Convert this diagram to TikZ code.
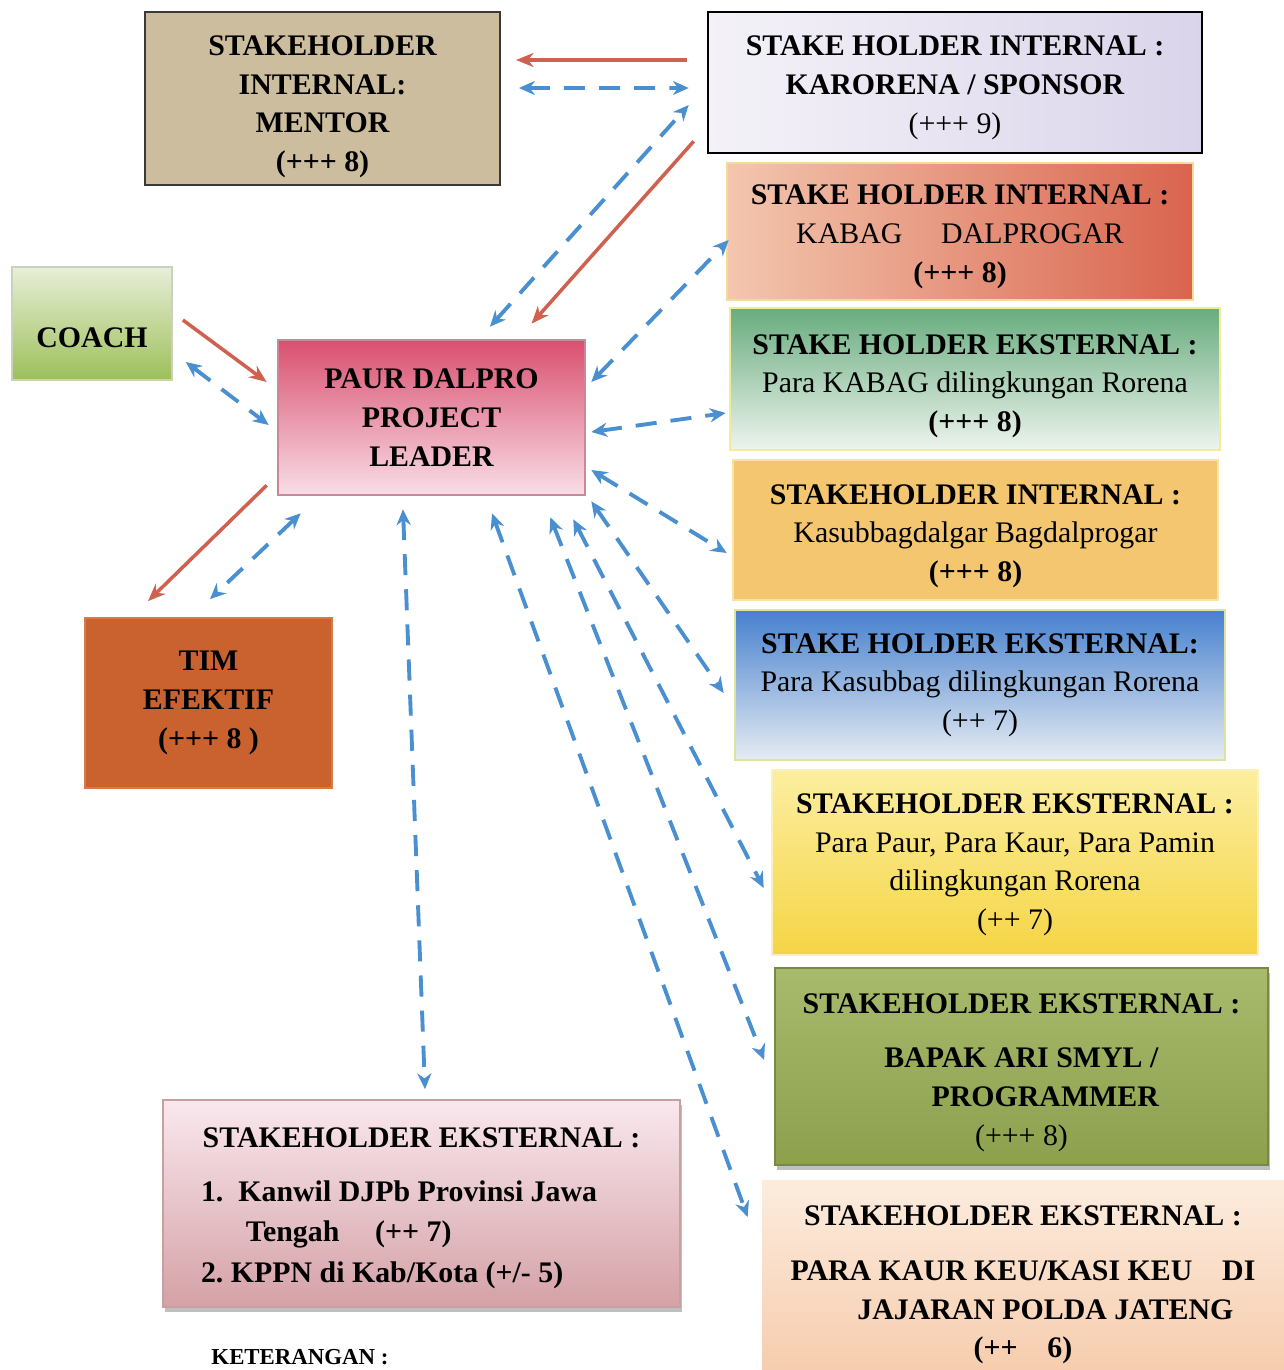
\documentclass[tikz,border=0pt]{standalone}
\usepackage{fontspec}
\setmainfont{Liberation Serif}
\usetikzlibrary{arrows.meta,calc,shadows}
\definecolor{redarr}{HTML}{D0604F}
\definecolor{bluearr}{HTML}{4A8FD0}
\newcommand\tstr[1]{\rule{0pt}{#1}}
\begin{document}
\begin{tikzpicture}[x=0.02cm,y=-0.02cm,
  wh/.style args={#1/#2}{rectangle, minimum width=#1*0.02cm, minimum height=#2*0.02cm,
     inner sep=0pt, align=center, font=\fontsize{17}{22}\selectfont},
  redline/.style={draw=redarr, line width=2pt, -{Stealth[length=10pt,width=8pt]}},
  blueline/.style={draw=bluearr, line width=2.2pt, dash pattern=on 12pt off 8pt,
     {Stealth[length=9pt,width=8pt]}-{Stealth[length=9pt,width=8pt]}},
]
\path[use as bounding box, clip] (0,0) rectangle (1284,1370);
\fill[white] (0,0) rectangle (1284,1370);

% nodes
\node[wh=355/173, fill={rgb,255:red,204;green,189;blue,158}, draw={rgb,255:red,58;green,58;blue,58}, line width=1.2pt, font=\fontsize{17}{22}\selectfont\bfseries]
  (mentor) at (322.5,98.5) {\tstr{20.5pt}STAKEHOLDER\\INTERNAL:\\MENTOR\\(+++ 8)};

\node[wh=494/141, left color={rgb,255:red,244;green,242;blue,248}, right color={rgb,255:red,218;green,212;blue,234}, draw=black, line width=1.5pt]
  (karo) at (955,82.5) {\tstr{17.2pt}\textbf{STAKE HOLDER INTERNAL :}\\\textbf{KARORENA / SPONSOR}\\(+++ 9)};

\node[wh=466/137, left color={rgb,255:red,243;green,198;blue,174}, right color={rgb,255:red,217;green,100;blue,78}, draw={rgb,255:red,242;green,220;blue,152}, line width=1.5pt]
  (kabag) at (960,231.5) {\tstr{17.2pt}\textbf{STAKE HOLDER INTERNAL :}\\KABAG\hspace{1.3em}DALPROGAR\\\textbf{(+++ 8)}};

\node[wh=490/142, top color={rgb,255:red,104;green,172;blue,126}, bottom color={rgb,255:red,238;green,244;blue,238}, draw={rgb,255:red,242;green,236;blue,148}, line width=1.5pt]
  (pkabag) at (975,379) {\tstr{19.4pt}\textbf{STAKE HOLDER EKSTERNAL :}\\Para KABAG dilingkungan Rorena\\\textbf{(+++ 8)}};

\node[wh=485/140, fill={rgb,255:red,243;green,198;blue,111}, draw={rgb,255:red,247;green,228;blue,166}, line width=1.5pt]
  (kasub) at (975.5,530) {\tstr{18.3pt}\textbf{STAKEHOLDER INTERNAL :}\\Kasubbagdalgar Bagdalprogar\\\textbf{(+++ 8)}};

\node[wh=490/150, top color={rgb,255:red,70;green,128;blue,206}, bottom color={rgb,255:red,230;green,236;blue,242}, draw={rgb,255:red,221;green,228;blue,160}, line width=1.5pt]
  (pkasub) at (980,685) {\textbf{STAKE HOLDER EKSTERNAL:}\\Para Kasubbag dilingkungan Rorena\\(++ 7)};

\node[wh=486/185, top color={rgb,255:red,252;green,238;blue,160}, bottom color={rgb,255:red,245;green,213;blue,69}, draw={rgb,255:red,250;green,240;blue,190}, line width=1.5pt]
  (ppaur) at (1015,862.5) {\tstr{13.8pt}\textbf{STAKEHOLDER EKSTERNAL :}\\Para Paur, Para Kaur, Para Pamin\\dilingkungan Rorena\\(++ 7)};

\node[wh=493/197, top color={rgb,255:red,168;green,186;blue,108}, bottom color={rgb,255:red,140;green,160;blue,78}, draw={rgb,255:red,120;green,136;blue,70}, line width=1pt,
  drop shadow={shadow xshift=1pt, shadow yshift=-3pt, opacity=0.5}]
  (ari) at (1021.5,1066.5) {\tstr{18.3pt}\textbf{STAKEHOLDER EKSTERNAL :}\\[9pt]\textbf{BAPAK ARI SMYL /}\\\hspace*{1.6em}\textbf{PROGRAMMER}\\(+++ 8)};

\node[wh=522/190, top color={rgb,255:red,252;green,236;blue,222}, bottom color={rgb,255:red,246;green,205;blue,174}, font=\fontsize{17}{22}\selectfont\bfseries]
  (kaur) at (1023,1275) {\tstr{22.8pt}STAKEHOLDER EKSTERNAL :\\[9pt]PARA KAUR KEU/KASI KEU\hspace{1em}DI\\\hspace*{1.5em}JAJARAN POLDA JATENG\\(++\hspace{1em}6)};

\node[wh=160/113, top color={rgb,255:red,232;green,238;blue,216}, bottom color={rgb,255:red,157;green,192;blue,90}, draw={rgb,255:red,200;green,210;blue,190}, line width=1pt, font=\fontsize{17}{22}\selectfont\bfseries]
  (coach) at (92,323.5) {\tstr{27.3pt}COACH};

\node[wh=307/155, top color={rgb,255:red,217;green,80;blue,111}, bottom color={rgb,255:red,249;green,222;blue,232}, draw={rgb,255:red,201;green,138;blue,152}, line width=1.5pt, font=\fontsize{17}{22}\selectfont\bfseries]
  (paur) at (431.5,417.5) {PAUR DALPRO\\PROJECT\\LEADER};

\node[wh=247/170, fill={rgb,255:red,201;green,98;blue,47}, draw={rgb,255:red,214;green,122;blue,70}, line width=1pt, font=\fontsize{17}{22}\selectfont\bfseries]
  (tim) at (208.5,703) {TIM\\EFEKTIF\\(+++ 8 )};

\node[wh=517/207, top color={rgb,255:red,249;green,232;blue,238}, bottom color={rgb,255:red,212;green,161;blue,166}, draw={rgb,255:red,200;green,160;blue,160}, line width=1pt,
  drop shadow={shadow xshift=1pt, shadow yshift=-3pt, opacity=0.5}, font=\fontsize{17}{22}\selectfont\bfseries]
  (kanwil) at (421.5,1203.5) {\tstr{19.5pt}STAKEHOLDER EKSTERNAL :\\[14pt]\begin{tabular}{@{}l@{}}1.\ \ Kanwil DJPb Provinsi Jawa\\[1pt]\hspace*{1.5em}Tengah\hspace{1.2em}(++ 7)\\[1pt]2.\ KPPN di Kab/Kota (+/- 5)\end{tabular}\hspace*{1.5em}};

\node[anchor=base, inner sep=0pt, font=\fontsize{13}{16}\selectfont\bfseries] (ket) at (300,1364) {KETERANGAN :};

% red arrows
\draw[redline] ($(karo.west)+(-20,-22.5)$) -- ($(mentor.east)+(15,-38.5)$);
\draw[redline] ($(karo.south west)+(-13,-13)$) -- ($(paur.north)+(100,-15)$);
\draw[redline] ($(coach.east)+(10,-3.5)$) -- ($(paur.west)+(-10,-35.5)$);
\draw[redline] ($(paur.south west)+(-10,-11)$) -- ($(tim.north)+(-60.5,-16)$);

% blue dashed arrows
\draw[blueline] ($(mentor.east)+(18,-10.5)$) -- ($(karo.west)+(-18,5.5)$);
\draw[blueline] ($(paur.north)+(58.5,-12)$) -- ($(karo.west)+(-18,22.5)$);
\draw[blueline] ($(paur.east)+(5,-35.5)$) -- ($(kabag.west)+(3,8.5)$);
\draw[blueline] ($(paur.east)+(5,14.5)$) -- ($(pkabag.west)+(-3,34)$);
\draw[blueline] ($(paur.east)+(5,52.5)$) -- ($(kasub.west)+(-5,23)$);
\draw[blueline] ($(paur.south east)+(5,5)$) -- ($(pkasub.west)+(-10,8)$);
\draw[blueline] ($(paur.south east)+(-13,23)$) -- ($(ppaur.west)+(-7,25.5)$);
\draw[blueline] ($(paur.south east)+(-36,21)$) -- ($(ari.west)+(-10,-6.5)$);
\draw[blueline] ($(paur.south)+(60.5,17)$) -- ($(kaur.west)+(-14,-58)$);
\draw[blueline] ($(paur.south)+(-28.5,13)$) -- ($(kanwil.north)+(3.5,-10)$);
\draw[blueline] ($(coach.east)+(13,38.5)$) -- ($(paur.west)+(-8,7.5)$);
\draw[blueline] ($(paur.south west)+(24,17)$) -- ($(tim.north)+(1.5,-18)$);
\end{tikzpicture}
\end{document}
